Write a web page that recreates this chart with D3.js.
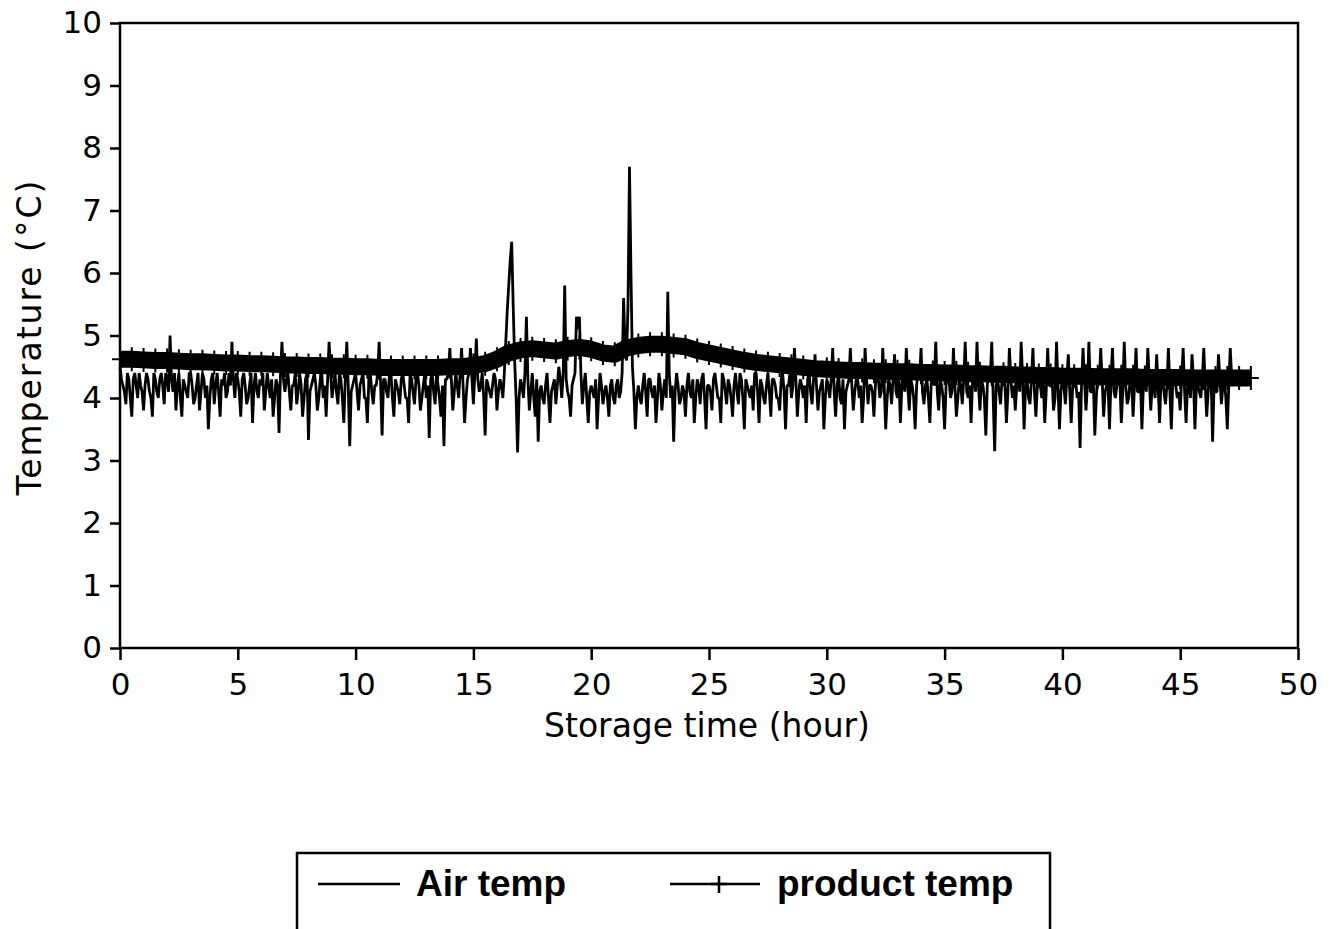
<!DOCTYPE html>
<html>
<head>
<meta charset="utf-8">
<script src="https://cdn.jsdelivr.net/npm/d3@7"></script>
<style>
  body { margin: 0; background: #fff; }
  svg { display: block; }
  .tick text { font-family: "DejaVu Sans", sans-serif; font-size: 31px; fill: #000; }
  .tick line { stroke: #000; stroke-width: 2.5; }
</style>
</head>
<body>
<div id="chart"></div>
<script>
const width = 1335;
const height = 929;

// x ticks (hour) and y ticks (°C)
const xTicks = [0, 5, 10, 15, 20, 25, 30, 35, 40, 45, 50];
const yTicks = [0, 1, 2, 3, 4, 5, 6, 7, 8, 9, 10];

// air temperature, one reading every 0.125 h starting at 0 h (8 per row = 1 hour)
const airStep = 0.125;
const airTemp = [
  4.5, 4.2, 3.9, 4.3, 3.7, 4.4, 4.0, 4.2, // 0
  3.8, 4.4, 4.1, 3.7, 4.3, 4.0, 4.4, 3.9, // 1
  4.3, 5.0, 4.1, 3.8, 4.4, 3.7, 4.2, 4.0, // 2
  4.4, 3.9, 4.2, 3.8, 4.4, 4.0, 3.5, 4.3, // 3
  3.9, 4.4, 3.7, 4.2, 4.0, 4.4, 4.9, 4.0, // 4
  4.3, 3.7, 4.4, 3.9, 4.2, 3.6, 4.4, 4.0, // 5
  4.2, 3.8, 4.4, 4.0, 3.7, 4.3, 3.44, 4.9, // 6
  4.1, 4.4, 3.8, 4.2, 3.9, 4.4, 3.7, 4.3, // 7
  3.33, 4.2, 4.4, 3.8, 4.3, 4.0, 3.7, 4.9, // 8
  4.0, 4.4, 3.9, 4.3, 3.6, 4.9, 3.23, 4.2, // 9
  4.4, 3.8, 4.3, 4.0, 3.6, 4.4, 3.9, 4.2, // 10
  4.9, 3.4, 4.3, 4.0, 4.4, 3.7, 4.2, 3.9, // 11
  4.4, 4.0, 3.6, 4.3, 3.9, 4.4, 3.8, 4.2, // 12
  4.0, 3.36, 4.4, 3.9, 4.2, 3.7, 3.23, 4.3, // 13
  4.8, 3.8, 4.4, 4.0, 4.8, 3.6, 4.3, 4.8, // 14
  3.9, 4.95, 4.1, 4.4, 3.4, 4.2, 4.0, 4.4, // 15
  3.8, 4.3, 4.0, 4.9, 5.8, 6.5, 4.6, 3.13, // 16
  4.3, 4.0, 5.3, 3.8, 4.4, 3.7, 3.3, 4.2, // 17
  3.9, 4.4, 3.6, 4.2, 3.9, 4.5, 4.0, 5.8, // 18
  4.1, 3.7, 4.3, 5.3, 5.3, 3.9, 4.4, 3.6, // 19
  4.2, 4.0, 3.5, 4.4, 3.9, 4.2, 3.7, 4.3, // 20
  3.9, 4.3, 4.1, 5.6, 4.6, 7.7, 4.5, 3.5, // 21
  4.2, 3.9, 4.4, 3.7, 4.3, 4.0, 3.6, 4.4, // 22
  3.8, 4.3, 5.7, 4.0, 3.3, 4.4, 3.9, 4.2, // 23
  3.7, 4.4, 4.0, 3.6, 4.3, 3.9, 4.4, 3.5, // 24
  4.2, 3.8, 4.4, 4.0, 3.6, 4.3, 3.9, 4.2, // 25
  3.7, 4.4, 3.9, 4.3, 3.5, 4.2, 4.0, 3.8, // 26
  4.4, 3.6, 4.2, 3.9, 4.4, 3.7, 4.3, 4.0, // 27
  3.8, 4.4, 3.5, 4.2, 4.0, 4.8, 3.7, 4.3, // 28
  4.0, 3.6, 4.4, 3.9, 4.7, 3.8, 4.2, 3.5, // 29
  4.3, 4.0, 4.8, 3.7, 4.4, 3.9, 3.5, 4.2, // 30
  4.8, 3.8, 4.3, 4.0, 3.6, 4.8, 3.9, 4.2, // 31
  3.7, 4.4, 4.0, 4.8, 3.5, 4.3, 3.9, 4.7, // 32
  4.0, 3.6, 4.4, 4.8, 3.8, 4.2, 3.5, 4.4, // 33
  4.8, 3.9, 4.3, 3.6, 4.4, 4.9, 3.8, 4.2, // 34
  3.5, 4.4, 4.0, 4.8, 3.7, 4.3, 3.9, 4.9, // 35
  4.0, 3.6, 4.4, 4.9, 3.8, 4.2, 3.4, 4.4, // 36
  4.9, 3.15, 4.3, 3.9, 4.4, 3.6, 4.8, 4.0, // 37
  3.8, 4.4, 4.9, 3.5, 4.3, 3.9, 4.8, 3.7, // 38
  4.4, 4.0, 3.6, 4.8, 4.2, 3.8, 4.9, 3.5, // 39
  4.3, 3.9, 4.7, 3.6, 4.4, 4.0, 3.2, 4.8, // 40
  3.8, 4.9, 4.1, 3.4, 4.4, 4.8, 3.7, 4.2, // 41
  3.5, 4.8, 4.0, 4.4, 3.6, 4.9, 3.9, 4.3, // 42
  3.7, 4.8, 4.1, 3.5, 4.4, 4.8, 3.8, 4.2, // 43
  4.7, 3.6, 4.3, 3.9, 4.8, 3.5, 4.4, 4.0, // 44
  3.8, 4.8, 3.6, 4.3, 4.7, 3.5, 4.2, 4.0, // 45
  4.8, 3.7, 4.4, 3.3, 4.1, 4.7, 3.9, 4.3, // 46
  3.5, 4.8, 4.2 // 47
];

// air temperature read half-way between the readings above (t + 0.0625 h)
const airTempMid = [
  4.3, 4.1, 4.4, 4.0, 4.3, 4.2, 4.4, 4.1, // 0
  4.2, 4.3, 4.0, 4.4, 4.1, 4.3, 4.2, 4.4, // 1
  4.1, 4.3, 4.4, 4.2, 4.0, 4.3, 4.1, 4.4, // 2
  4.2, 4.0, 4.4, 4.1, 4.3, 4.2, 4.0, 4.4, // 3
  4.2, 4.1, 4.3, 4.4, 4.1, 4.2, 4.3, 4.4, // 4
  4.1, 4.3, 4.2, 4.0, 4.4, 4.2, 4.1, 4.3, // 5
  4.4, 4.1, 4.2, 4.3, 4.0, 4.2, 4.4, 4.3, // 6
  4.3, 4.1, 4.2, 4.4, 4.1, 4.2, 4.0, 4.4, // 7
  4.1, 4.3, 4.2, 4.0, 4.4, 4.2, 4.3, 4.4, // 8
  4.2, 4.1, 4.4, 4.0, 4.3, 4.2, 4.1, 4.3, // 9
  4.1, 4.2, 4.4, 4.0, 4.3, 4.1, 4.2, 4.4, // 10
  4.2, 4.3, 4.1, 4.4, 4.0, 4.3, 4.1, 4.3, // 11
  4.2, 4.0, 4.4, 4.1, 4.3, 4.2, 4.0, 4.4, // 12
  4.2, 4.3, 4.1, 4.4, 4.0, 4.2, 4.3, 4.4, // 13
  4.3, 4.1, 4.2, 4.4, 4.2, 4.0, 4.4, 4.3, // 14
  4.4, 4.3, 4.2, 4.0, 4.3, 4.1, 4.2, 4.3, // 15
  4.1, 4.2, 4.4, 5.4, 6.2, 5.5, 4.0, 4.0, // 16
  4.2, 4.4, 4.3, 4.1, 4.0, 4.3, 4.1, 4.0, // 17
  4.2, 4.0, 4.1, 4.3, 4.2, 4.3, 4.4, 4.3, // 18
  4.0, 4.2, 4.4, 5.1, 4.4, 4.2, 4.0, 4.1, // 19
  4.1, 4.3, 4.0, 4.2, 4.1, 4.0, 4.2, 4.0, // 20
  4.2, 4.0, 4.4, 4.8, 5.5, 6.0, 4.1, 4.0, // 21
  4.0, 4.2, 4.1, 4.3, 4.1, 4.2, 4.0, 4.2, // 22
  4.1, 4.0, 4.4, 4.2, 4.1, 4.2, 4.0, 4.1, // 23
  4.2, 4.1, 4.3, 4.0, 4.2, 4.3, 4.0, 4.2, // 24
  4.1, 4.3, 4.2, 4.0, 4.4, 4.1, 4.3, 4.0, // 25
  4.2, 4.1, 4.4, 4.0, 4.3, 4.1, 4.2, 4.4, // 26
  4.1, 4.3, 4.0, 4.2, 4.1, 4.3, 4.2, 4.0, // 27
  4.3, 4.1, 4.2, 4.4, 4.2, 4.3, 4.1, 4.2, // 28
  4.2, 4.3, 4.1, 4.3, 4.2, 4.1, 4.3, 4.0, // 29
  4.2, 4.3, 4.1, 4.2, 4.0, 4.3, 4.1, 4.3, // 30
  4.2, 4.1, 4.3, 4.2, 4.0, 4.3, 4.2, 4.1, // 31
  4.2, 4.3, 4.1, 4.2, 4.0, 4.2, 4.3, 4.1, // 32
  4.3, 4.2, 4.1, 4.2, 4.3, 4.0, 4.2, 4.3, // 33
  4.1, 4.2, 4.0, 4.3, 4.2, 4.1, 4.3, 4.0, // 34
  4.2, 4.3, 4.1, 4.2, 4.0, 4.2, 4.3, 4.1, // 35
  4.2, 4.3, 4.1, 4.2, 4.3, 4.0, 4.2, 4.3, // 36
  4.0, 4.2, 4.1, 4.3, 4.2, 4.1, 4.3, 4.2, // 37
  4.2, 4.1, 4.3, 4.2, 4.0, 4.3, 4.1, 4.2, // 38
  4.2, 4.3, 4.1, 4.2, 4.3, 4.0, 4.2, 4.1, // 39
  4.2, 4.3, 4.1, 4.2, 4.3, 4.1, 4.2, 4.3, // 40
  4.2, 4.1, 4.3, 4.0, 4.2, 4.3, 4.1, 4.2, // 41
  4.3, 4.1, 4.2, 4.3, 4.1, 4.2, 4.0, 4.3, // 42
  4.2, 4.1, 4.3, 4.2, 4.1, 4.3, 4.2, 4.0, // 43
  4.2, 4.3, 4.1, 4.2, 4.1, 4.3, 4.2, 4.1, // 44
  4.3, 4.1, 4.2, 4.0, 4.3, 4.2, 4.1, 4.3, // 45
  4.2, 4.1, 4.3, 4.2, 4.1, 4.3, 4.2, 4.0, // 46
  4.2, 4.3 // 47
];

// product temperature, one reading every 0.5 h from 0 h to 48 h
const productStep = 0.5;
const productTemp = [
  4.62, 4.62, 4.61, 4.60, 4.60, 4.59, 4.58, 4.58, 4.57, 4.56, // 0-4.5
  4.56, 4.55, 4.55, 4.54, 4.53, 4.53, 4.52, 4.52, 4.51, 4.51, // 5-9.5
  4.50, 4.50, 4.49, 4.49, 4.49, 4.49, 4.49, 4.49, 4.50, 4.50, // 10-14.5
  4.52, 4.55, 4.62, 4.72, 4.77, 4.79, 4.77, 4.75, 4.79, 4.81, // 15-19.5
  4.78, 4.72, 4.70, 4.80, 4.84, 4.86, 4.86, 4.84, 4.82, 4.76, // 20-24.5
  4.72, 4.68, 4.64, 4.60, 4.57, 4.55, 4.53, 4.51, 4.49, 4.47, // 25-29.5
  4.46, 4.45, 4.44, 4.44, 4.43, 4.43, 4.42, 4.42, 4.41, 4.41, // 30-34.5
  4.40, 4.40, 4.39, 4.39, 4.38, 4.38, 4.37, 4.37, 4.36, 4.36, // 35-39.5
  4.35, 4.35, 4.35, 4.34, 4.34, 4.34, 4.34, 4.33, 4.33, 4.33, // 40-44.5
  4.33, 4.32, 4.32, 4.32, 4.32, 4.32, 4.32 // 45-48
];

const legendLabels = ["Air temp", "product temp"];

const svg = d3
  .select("#chart")
  .append("svg")
  .attr("width", width)
  .attr("height", height);

svg.append("rect").attr("width", width).attr("height", height).attr("fill", "#fff");

const xScale = d3.scaleLinear().domain([0, 50]).range([120, 1298]);
const yScale = d3.scaleLinear().domain([0, 10]).range([648, 23]);

// series: merge the two air readings sets in time order
const airData = airTemp.flatMap((v, i) =>
  i < airTempMid.length
    ? [
        [i * airStep, v],
        [i * airStep + airStep / 2, airTempMid[i]],
      ]
    : [[i * airStep, v]]
);
const productData = productTemp.map((v, i) => [i * productStep, v]);

const line = d3
  .line()
  .x((d) => xScale(d[0]))
  .y((d) => yScale(d[1]));

svg
  .append("path")
  .datum(airData)
  .attr("d", line)
  .attr("fill", "none")
  .attr("stroke", "#000")
  .attr("stroke-width", 2.8)
  .attr("stroke-linejoin", "bevel");

svg
  .append("path")
  .datum(productData)
  .attr("d", line)
  .attr("fill", "none")
  .attr("stroke", "#000")
  .attr("stroke-width", 17)
  .attr("stroke-linejoin", "round")
  .attr("stroke-linecap", "butt");

// "+" markers of the product series
svg
  .selectAll(".plus")
  .data(productData)
  .enter()
  .append("path")
  .attr("class", "plus")
  .attr("d", (d) => {
    const px = xScale(d[0]);
    const py = yScale(d[1]);
    return `M${px - 8},${py}H${px + 8}M${px},${py - 12}V${py + 12}`;
  })
  .attr("stroke", "#000")
  .attr("stroke-width", 2);

// frame
svg
  .append("path")
  .attr("d", `M${xScale(0)},${yScale(10)}H${xScale(50)}V${yScale(0)}H${xScale(0)}Z`)
  .attr("fill", "none")
  .attr("stroke", "#000")
  .attr("stroke-width", 2.5);

// x axis
const xAxis = d3
  .axisBottom(xScale)
  .tickValues(xTicks)
  .tickSize(12)
  .tickPadding(13)
  .tickFormat(d3.format("d"));

svg
  .append("g")
  .attr("transform", `translate(0, ${yScale(0)})`)
  .call(xAxis)
  .call((g) => g.select(".domain").remove());

// y axis
const yAxis = d3
  .axisLeft(yScale)
  .tickValues(yTicks)
  .tickSize(10)
  .tickPadding(8)
  .tickFormat(d3.format("d"));

svg
  .append("g")
  .attr("transform", `translate(${xScale(0)}, 0)`)
  .call(yAxis)
  .call((g) => g.select(".domain").remove());

// axis titles
svg
  .append("text")
  .attr("x", 707)
  .attr("y", 737)
  .style("text-anchor", "middle")
  .style("font-family", "DejaVu Sans, sans-serif")
  .style("font-size", "33px")
  .text("Storage time (hour)");

svg
  .append("text")
  .attr("transform", "translate(41, 337) rotate(-90)")
  .style("text-anchor", "middle")
  .style("font-family", "DejaVu Sans, sans-serif")
  .style("font-size", "33px")
  .style("letter-spacing", "2px")
  .text("Temperature (°C)");

// legend
const legend = svg.append("g");

legend
  .append("path")
  .attr("d", "M297,940V853H1050V940")
  .attr("fill", "none")
  .attr("stroke", "#000")
  .attr("stroke-width", 2.5);

legend
  .append("line")
  .attr("x1", 318)
  .attr("x2", 400)
  .attr("y1", 884)
  .attr("y2", 884)
  .attr("stroke", "#000")
  .attr("stroke-width", 2.5);

legend
  .append("line")
  .attr("x1", 670)
  .attr("x2", 760)
  .attr("y1", 884)
  .attr("y2", 884)
  .attr("stroke", "#000")
  .attr("stroke-width", 2.5);

legend
  .append("path")
  .attr("d", "M711,884H727M719,876V893")
  .attr("stroke", "#000")
  .attr("stroke-width", 2.5);

legend
  .selectAll(".legend-label")
  .data(legendLabels)
  .enter()
  .append("text")
  .attr("class", "legend-label")
  .attr("x", (d, i) => (i === 0 ? 416 : 777))
  .attr("y", 896)
  .style("font-family", "Liberation Sans, Arial, sans-serif")
  .style("font-weight", "bold")
  .style("font-size", "37px")
  .text((d) => d);
</script>
</body>
</html>
